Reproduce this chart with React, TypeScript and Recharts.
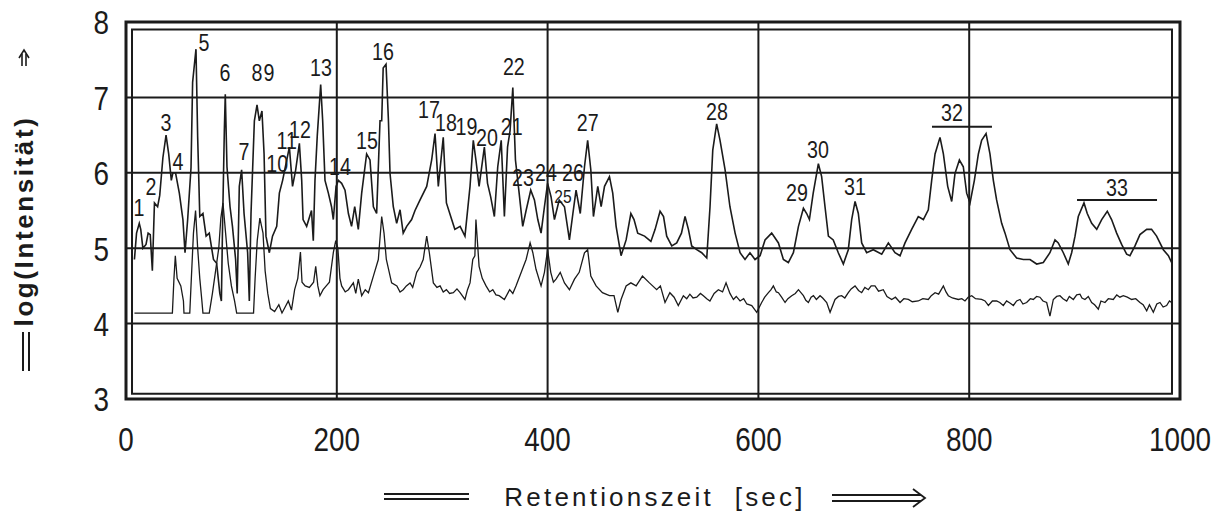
import { ComposedChart, Line, Scatter, XAxis, YAxis, CartesianGrid, ReferenceArea, ReferenceLine } from 'recharts';

// Retention time (s) and log intensity of the upper trace
const upperX = [
  8, 10, 12.6, 14, 16, 19, 21, 23, 25, 27, 30, 32, 35, 38, 40.5, 43, 44.5, 47, 49, 50.6, 54, 56, 58.5, 61.7, 63.2, 65, 66.4, 68, 70, 73,
  76, 79, 83, 86, 89, 90.5, 91.7, 93.3, 94.2, 95.8, 98.7, 101, 104, 105.5, 107.5, 109.7, 112, 115.4, 117, 118.6, 121.8, 124.3, 126.5, 129, 131, 132.8, 136, 139, 143, 145.5,
  148.6, 151.8, 155, 158, 161, 164.5, 166.7, 168, 171.4, 176, 177.7, 179.3, 181.5, 184.7, 186.6, 188.8, 192, 195, 196.7, 199.3, 201.5, 204.6, 207.8, 211, 214, 217, 220.4, 223.6, 228.3, 231.5,
  234.7, 237.8, 241, 242.6, 244, 246.7, 249, 250.5, 253.6, 256.8, 260, 263, 266.3, 271, 274.2, 279, 285.3, 290, 293.2, 296.3, 301, 304, 309, 312, 317, 321.6, 326.4, 329.5, 332, 335,
  340, 343, 346, 349.5, 352.7, 356, 359, 362, 364.4, 367, 369.5, 373, 376.4, 379.6, 384, 387.5, 390.7, 393.8, 397, 400, 403.3, 406.5, 411, 416, 420.7, 424, 427, 431, 435, 438,
  441, 443.5, 447.6, 450.8, 454, 458.7, 461.8, 465, 469.7, 474.5, 479, 482, 485.5, 492, 498, 502, 506.7, 510, 513, 517.8, 522.5, 527, 530.4, 533.6, 536.7, 541.5, 546.2, 551, 554.1, 556.7,
  560.4, 563.6, 568.4, 573, 577.9, 582.6, 587.3, 592, 596.8, 601.6, 606.3, 612.6, 619, 623.7, 628.4, 633.2, 638, 642.7, 645.8, 648.4, 652, 656.9, 660, 663.2, 666.4, 671, 675.8, 680.6, 685.3, 688.5,
  691.7, 694.8, 698, 702.7, 709, 717, 723.3, 729.6, 734.4, 739.1, 745.4, 751.7, 756.5, 761.2, 764.4, 767.6, 772.3, 775.5, 779.6, 783.4, 786.5, 790.7, 794.4, 797.6, 800.8, 804.9, 808.7, 811.8, 816, 819.7,
  822.9, 826, 830.8, 834, 838.7, 845, 851.3, 857.7, 864, 870.3, 876.6, 881.4, 884.5, 889.3, 894, 897.2, 900.4, 903.5, 908.9, 912, 916.2, 921, 925.7, 931, 935.1, 939.9, 944.6, 949.4, 952.5, 957.3,
  962, 968.4, 973, 977.8, 984.2, 989, 992,
];
const upperY = [
  4.85, 5.2, 5.33, 5.25, 5.0, 5.05, 5.2, 5.18, 4.7, 5.6, 5.55, 5.7, 6.2, 6.5, 6.25, 5.9, 6.0, 6.0, 5.85, 5.73, 5.38, 4.94, 5.38, 6.07, 7.2, 7.45, 7.64, 6.47, 5.42, 5.46,
  5.16, 5.2, 4.85, 4.8, 4.4, 4.3, 5.38, 6.56, 7.04, 6.08, 5.55, 5.29, 4.85, 4.4, 5.82, 6.04, 5.46, 4.94, 4.3, 5.46, 6.69, 6.9, 6.69, 6.82, 6.25, 5.16, 4.94, 5.16, 5.29, 5.73,
  5.9, 6.12, 6.34, 5.82, 6.04, 6.39, 5.9, 5.38, 5.29, 5.5, 5.1, 5.9, 6.5, 7.17, 6.69, 5.9, 5.73, 5.55, 5.38, 5.82, 5.9, 5.86, 5.77, 5.46, 5.29, 5.55, 5.25, 5.73, 6.25, 6.17,
  5.55, 5.46, 6.69, 6.69, 7.39, 7.44, 6.69, 5.99, 5.55, 5.33, 5.51, 5.2, 5.29, 5.38, 5.5, 5.64, 5.82, 6.17, 6.52, 5.82, 6.47, 5.6, 5.38, 5.25, 5.29, 5.16, 5.82, 6.43, 6.17, 5.82,
  6.34, 5.86, 5.68, 5.42, 6.08, 6.43, 5.42, 6.34, 6.56, 7.13, 6.17, 5.73, 5.29, 5.5, 5.77, 5.64, 5.38, 5.2, 5.55, 5.86, 5.68, 5.38, 5.64, 5.55, 5.11, 5.46, 5.77, 5.46, 6.08, 6.43,
  6.04, 5.42, 5.82, 5.55, 5.82, 5.95, 5.73, 5.29, 4.9, 5.11, 5.46, 5.38, 5.2, 5.16, 5.09, 5.25, 5.49, 5.42, 5.16, 5.03, 5.07, 5.2, 5.42, 5.25, 5.03, 4.98, 4.94, 4.87, 5.55, 6.3,
  6.65, 6.43, 6.04, 5.55, 5.2, 4.94, 4.85, 4.94, 4.85, 4.9, 5.11, 5.2, 5.07, 4.85, 4.81, 4.94, 5.29, 5.53, 5.46, 5.38, 5.73, 6.12, 5.95, 5.55, 5.16, 5.11, 4.94, 4.79, 4.98, 5.38,
  5.62, 5.46, 5.07, 4.94, 4.98, 4.92, 5.07, 4.94, 4.9, 5.07, 5.25, 5.42, 5.38, 5.51, 5.9, 6.25, 6.47, 6.25, 5.82, 5.62, 5.99, 6.17, 6.08, 5.73, 5.6, 5.9, 6.25, 6.43, 6.52, 6.25,
  5.9, 5.64, 5.33, 5.2, 4.98, 4.87, 4.85, 4.85, 4.79, 4.81, 4.94, 5.11, 5.07, 4.94, 4.79, 4.94, 5.16, 5.42, 5.6, 5.46, 5.33, 5.25, 5.38, 5.49, 5.38, 5.2, 5.05, 4.92, 4.9, 5.03,
  5.18, 5.25, 5.25, 5.16, 4.98, 4.9, 4.81,
];

// Lower (baseline) trace
const lowerX = [
  8, 44, 45.5, 46.8, 48.5, 52, 54.5, 55, 60.5, 62, 64, 66, 68, 70, 72, 73, 79, 82, 85, 88, 90, 92, 94.5, 97, 100, 103, 105, 121, 122.5, 124.5,
  127, 130, 132, 134.5, 137, 141, 145, 148, 151, 154, 157, 160, 163, 165.5, 167, 170, 174, 178, 180, 182, 184, 187, 190, 193, 196.7, 199, 201, 203, 204.6, 208,
  211, 215.7, 218, 220.4, 223.6, 227, 230, 234.7, 239.4, 242.6, 244.8, 247, 252, 257, 260, 263, 266, 269.5, 272, 275.8, 279, 282, 285.3, 287.8, 291.6, 295, 298, 301, 304, 307,
  310.6, 314, 317, 321.6, 324, 326.4, 329, 331, 332, 335, 338, 341.6, 345, 348, 351, 354, 359, 364, 367, 370, 375, 379.6, 383.4, 386, 389, 393.8, 397, 400, 403, 405.5,
  408, 412, 416, 420.7, 425.5, 430, 435, 438, 441, 446, 452, 458.7, 463, 466.6, 469.7, 474.5, 479, 484, 490, 496.6, 503.5, 507, 511.4, 516, 520, 524, 528.8, 532, 535, 538,
  541.5, 545, 547.8, 551, 554, 558, 562, 566, 569.3, 573, 576.3, 579, 582.6, 586, 589, 593.7, 598.4, 603.1, 606, 609.5, 612, 614.2, 617, 619, 622, 625.3, 628, 631.6, 635, 638,
  642.7, 645, 647.4, 650, 652.2, 655, 658.5, 661, 664.8, 668, 672.7, 676, 679, 682, 685.3, 688, 691.7, 695, 698, 701, 704.3, 707, 710.6, 714, 718.5, 722, 726.5, 730, 734.4, 738,
  742.3, 746, 751.7, 756, 761.2, 764, 767.6, 771, 775.5, 778, 780.2, 784, 789.7, 793, 796, 799, 802.4, 806, 811.8, 815, 818.2, 822, 826, 829, 832.4, 835.5, 839, 841.9, 845, 848.2,
  851, 854.5, 858, 860.8, 864, 867.1, 870, 873.5, 876.6, 879.8, 883, 886.1, 889, 892.5, 895, 898.8, 902, 905.1, 907, 909.8, 913, 916.2, 919, 922.5, 925, 928.8, 932, 936.7, 940, 943,
  946.2, 950, 954.1, 958, 962, 965, 968.4, 971, 974.7, 978, 981, 984, 987.3, 990, 992,
];
const lowerY = [
  4.14, 4.14, 4.6, 4.9, 4.6, 4.5, 4.3, 4.14, 4.14, 4.6, 5.2, 5.5, 5.0, 4.6, 4.3, 4.14, 4.14, 4.4, 4.7, 5.0, 5.4, 5.6, 5.2, 4.8, 4.5, 4.3, 4.14, 4.14, 4.6, 5.1,
  5.4, 5.2, 4.7, 4.4, 4.2, 4.16, 4.25, 4.14, 4.22, 4.3, 4.18, 4.45, 4.6, 4.95, 4.55, 4.5, 4.48, 4.55, 4.76, 4.5, 4.37, 4.45, 4.5, 4.55, 4.94, 5.1, 5.0, 4.6, 4.5, 4.42,
  4.45, 4.54, 4.4, 4.59, 4.37, 4.45, 4.41, 4.63, 4.85, 5.42, 5.2, 4.85, 4.54, 4.5, 4.42, 4.45, 4.5, 4.54, 4.48, 4.68, 4.75, 4.85, 5.16, 4.94, 4.54, 4.48, 4.5, 4.42, 4.45, 4.4,
  4.41, 4.46, 4.41, 4.32, 4.45, 4.54, 4.85, 4.9, 5.38, 4.76, 4.6, 4.5, 4.42, 4.45, 4.38, 4.37, 4.32, 4.45, 4.4, 4.5, 4.68, 4.85, 5.07, 4.94, 4.72, 4.5, 4.68, 4.98, 4.68, 4.55,
  4.59, 4.68, 4.54, 4.45, 4.59, 4.68, 4.94, 4.98, 4.63, 4.5, 4.41, 4.37, 4.37, 4.15, 4.32, 4.5, 4.54, 4.5, 4.63, 4.54, 4.45, 4.5, 4.28, 4.41, 4.35, 4.24, 4.37, 4.33, 4.39, 4.34,
  4.35, 4.4, 4.37, 4.33, 4.3, 4.4, 4.45, 4.42, 4.54, 4.4, 4.32, 4.36, 4.3, 4.33, 4.26, 4.24, 4.15, 4.28, 4.35, 4.41, 4.45, 4.5, 4.42, 4.41, 4.35, 4.28, 4.33, 4.37, 4.4, 4.45,
  4.37, 4.31, 4.28, 4.35, 4.37, 4.32, 4.37, 4.34, 4.28, 4.15, 4.32, 4.36, 4.37, 4.34, 4.41, 4.46, 4.5, 4.44, 4.41, 4.48, 4.45, 4.5, 4.5, 4.43, 4.45, 4.36, 4.32, 4.35, 4.28, 4.33,
  4.32, 4.29, 4.3, 4.33, 4.32, 4.37, 4.41, 4.39, 4.5, 4.42, 4.37, 4.34, 4.32, 4.33, 4.3, 4.35, 4.37, 4.33, 4.32, 4.3, 4.24, 4.3, 4.3, 4.28, 4.24, 4.3, 4.27, 4.24, 4.3, 4.32,
  4.26, 4.28, 4.33, 4.32, 4.36, 4.35, 4.3, 4.28, 4.1, 4.32, 4.36, 4.37, 4.33, 4.3, 4.36, 4.32, 4.38, 4.39, 4.34, 4.32, 4.36, 4.28, 4.25, 4.19, 4.3, 4.28, 4.33, 4.32, 4.38, 4.35,
  4.37, 4.35, 4.32, 4.33, 4.28, 4.25, 4.17, 4.25, 4.15, 4.26, 4.28, 4.22, 4.24, 4.3, 4.28,
];

// Peak numbers and where their labels sit
const peakIds = ['1', '2', '3', '4', '5', '6', '7', '8', '9', '10', '11', '12', '13', '14', '15', '16', '17', '18', '19', '20', '21', '22', '23', '24', '25', '26', '27', '28', '29', '30', '31', '32', '33'];
const peakLabelX = [12.3, 23.7, 38, 49.3, 74, 94, 112, 124.3, 135.7, 143.5, 152.5, 165, 185, 203, 228.6, 243.8, 287.5, 303.6, 323, 342.5, 366, 368, 376.7, 398.5, 414.6, 424, 438, 560.7, 636.6, 656.5, 691.7, 783.7, 940.2];
const peakLabelY = [5.53, 5.81, 6.66, 6.14, 7.73, 7.32, 6.28, 7.32, 7.32, 6.12, 6.43, 6.57, 7.39, 6.08, 6.43, 7.6, 6.83, 6.66, 6.61, 6.47, 6.61, 7.4, 5.93, 6.0, 5.68, 6.0, 6.66, 6.81, 5.73, 6.3, 5.81, 6.79, 5.8];

const xTicks = [0, 200, 400, 600, 800, 1000];
const yTicks = [3, 4, 5, 6, 7, 8];

const INK = '#1b1b1b';
const SANS = "'Liberation Sans', Arial, sans-serif";

const upperData = upperX.map((x, i) => ({ x, y: upperY[i] }));
const lowerData = lowerX.map((x, i) => ({ x, y: lowerY[i] }));
const peakData = peakIds.map((id, i) => ({ id, x: peakLabelX[i], y: peakLabelY[i] }));

// narrow digits, like the plotter font of the original
const NarrowText = ({ x, y, size, anchor, children }: any) => (
  <text
    transform={`translate(${x} ${y}) scale(0.82 1)`}
    x={0}
    y={0}
    textAnchor={anchor}
    dominantBaseline="central"
    fontSize={size}
    fontFamily={SANS}
    fill={INK}
  >
    {children}
  </text>
);

const XTick = ({ x, y, payload }: any) => (
  <NarrowText x={x} y={y + 33} size={34} anchor="middle">
    {payload.value}
  </NarrowText>
);

const YTick = ({ x, y, payload }: any) => (
  <NarrowText x={x - 9} y={y + 1} size={34} anchor="end">
    {payload.value}
  </NarrowText>
);

const XTitle = (props: any) => {
  const vb = props.viewBox;
  const cx = vb.x + vb.width / 2;
  const cy = vb.y + 98;
  return (
    <g>
      <line x1={cx - 269} x2={cx - 184} y1={cy - 3} y2={cy - 3} stroke={INK} strokeWidth={2} />
      <line x1={cx - 269} x2={cx - 184} y1={cy + 2} y2={cy + 2} stroke={INK} strokeWidth={2} />
      <text x={cx + 2} y={cy} textAnchor="middle" dominantBaseline="central" fontSize={26} letterSpacing={3.2} fontFamily={SANS} fill={INK}>
        {'Retentionszeit\u00a0 [sec]'}
      </text>
      <line x1={cx + 179} x2={cx + 268} y1={cy - 2} y2={cy - 2} stroke={INK} strokeWidth={2} />
      <line x1={cx + 179} x2={cx + 268} y1={cy + 4} y2={cy + 4} stroke={INK} strokeWidth={2} />
      <path d={`M ${cx + 260} ${cy - 8} L ${cx + 272} ${cy + 1} L ${cx + 260} ${cy + 10}`} fill="none" stroke={INK} strokeWidth={1.8} />
    </g>
  );
};

const YTitle = () => {
  const cx = 24;
  const cy = 221;
  return (
    <g>
      <line x1={cx - 2} x2={cx - 2} y1={54} y2={66} stroke={INK} strokeWidth={1.6} />
      <line x1={cx + 2} x2={cx + 2} y1={54} y2={66} stroke={INK} strokeWidth={1.6} />
      <path d={`M ${cx - 5} ${58} L ${cx} ${50} L ${cx + 5} ${58}`} fill="none" stroke={INK} strokeWidth={1.6} />
      <text
        x={cx}
        y={cy}
        transform={`rotate(-90 ${cx} ${cy})`}
        textAnchor="middle"
        dominantBaseline="central"
        fontSize={26}
        fontWeight="bold"
        letterSpacing={2.6}
        fontFamily={SANS}
        fill={INK}
      >
        log(Intensität)
      </text>
      <line x1={cx - 1} x2={cx - 1} y1={332} y2={371} stroke={INK} strokeWidth={2} />
      <line x1={cx + 5} x2={cx + 5} y1={332} y2={371} stroke={INK} strokeWidth={2} />
    </g>
  );
};

const PeakLabel = (props: any) => {
  const { cx, cy, payload } = props;
  const small = payload.id === '25';
  return (
    <NarrowText x={cx} y={cy} size={small ? 19 : 24} anchor="middle">
      {payload.id}
    </NarrowText>
  );
};

export default function App() {
  return (
    <div style={{ position: 'absolute', left: 0, top: 0, width: 1224, height: 515, background: '#fff' }}>
      <ComposedChart width={1224} height={515} margin={{ top: 22, right: 44, bottom: 56, left: 66 }}>
        <CartesianGrid stroke={INK} strokeWidth={2} />
        <XAxis
          type="number"
          dataKey="x"
          domain={[0, 1000]}
          ticks={xTicks}
          height={60}
          axisLine={false}
          tickLine={false}
          tick={<XTick />}
          allowDataOverflow
          label={XTitle}
        />
        <YAxis
          type="number"
          domain={[3, 8]}
          ticks={yTicks}
          width={60}
          axisLine={false}
          tickLine={false}
          tick={<YTick />}
          allowDataOverflow
          label={<YTitle />}
        />
        <ReferenceArea x1={0} x2={1000} y1={3} y2={8} fill="none" stroke={INK} strokeWidth={3} ifOverflow="visible" />
        <ReferenceArea x1={5.7} x2={992.4} y1={3.07} y2={7.9} fill="none" stroke={INK} strokeWidth={2} ifOverflow="visible" />
        <ReferenceLine segment={[{ x: 764.7, y: 6.61 }, { x: 821.6, y: 6.61 }]} stroke={INK} strokeWidth={2} />
        <ReferenceLine segment={[{ x: 902.3, y: 5.64 }, { x: 978.2, y: 5.64 }]} stroke={INK} strokeWidth={2} />
        <Line data={lowerData} dataKey="y" type="linear" stroke={INK} strokeWidth={1.3} dot={false} isAnimationActive={false} />
        <Line data={upperData} dataKey="y" type="linear" stroke={INK} strokeWidth={1.6} dot={false} isAnimationActive={false} />
        <Scatter data={peakData} dataKey="y" shape={PeakLabel} isAnimationActive={false} />
      </ComposedChart>
    </div>
  );
}
